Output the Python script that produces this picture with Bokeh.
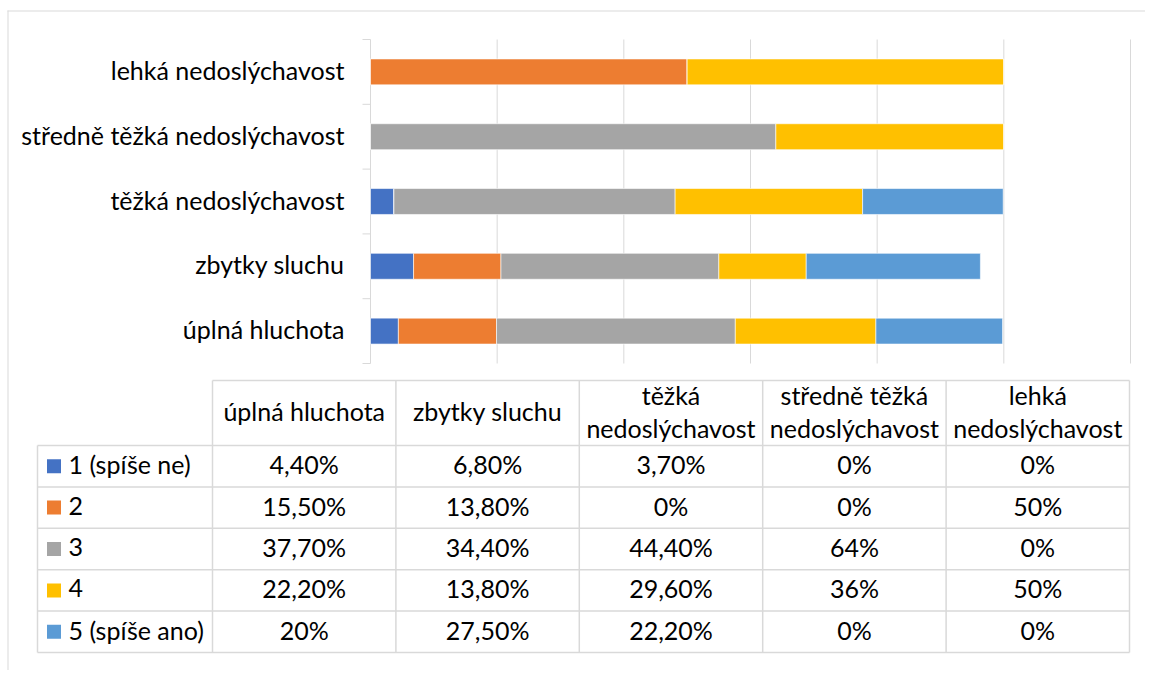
from bokeh.plotting import figure
from bokeh.models import ColumnDataSource, Range1d
from bokeh.embed import file_html
from bokeh.resources import INLINE
from bokeh.core.properties import value

# ---------------- data ----------------
categories = ["úplná hluchota", "zbytky sluchu", "těžká nedoslýchavost",
              "středně těžká nedoslýchavost", "lehká nedoslýchavost"]
series_names = ["1 (spíše ne)", "2", "3", "4", "5 (spíše ano)"]
s1 = [4.4, 6.8, 3.7, 0, 0]
s2 = [15.5, 13.8, 0, 0, 50]
s3 = [37.7, 34.4, 44.4, 64, 0]
s4 = [22.2, 13.8, 29.6, 36, 50]
s5 = [20, 27.5, 22.2, 0, 0]
series_values = [s1, s2, s3, s4, s5]
colors = ["#4472C4", "#ED7D31", "#A5A5A5", "#FFC000", "#5B9BD5"]
x_ticks = [0, 0.2, 0.4, 0.6, 0.8, 1.0, 1.2]

FONT = "Lato"
FS = "25px"
GRID = "#D9D9D9"
TXT = "#000000"
YOFF = -2

# ---------------- layout constants (pixels) ----------------
W, H = 1145, 670
PX = 633.33      # pixels per 100 %
X0 = 370         # pixel position of 0 %
BAND = 64.8      # pixel height of one category band
Y0 = 363         # pixel position of bottom of the category axis

p = figure(width=W, height=H,
           x_range=Range1d(-X0 / PX, (W - X0) / PX),
           y_range=Range1d((Y0 - H) / BAND, Y0 / BAND),
           x_axis_location=None, y_axis_location=None,
           min_border=0, output_backend="svg", toolbar_location=None,
           outline_line_color=None, background_fill_color="white",
           border_fill_color="white")
p.grid.visible = False
p.extra_x_ranges = {"px": Range1d(0, W)}
p.extra_y_ranges = {"px": Range1d(H, 0)}

# ---------------- chart ----------------
n = len(categories)
keys = ["s%d" % (i + 1) for i in range(len(series_values))]
data = {"pos": [i + 0.5 for i in range(n)], "cat": categories}
for k, vals in zip(keys, series_values):
    data[k] = [v / 100.0 for v in vals]
src = ColumnDataSource(data)

# vertical gridlines
p.segment(x0=x_ticks, x1=x_ticks, y0=[0] * len(x_ticks), y1=[n] * len(x_ticks),
          line_color=GRID, line_width=1)
# category tick marks (between bands)
bnd = list(range(n + 1))
p.segment(x0=[-8 / PX] * len(bnd), x1=[0] * len(bnd), y0=bnd, y1=bnd,
          line_color=GRID, line_width=1)

p.hbar_stack(keys, y="pos", height=0.4, color=colors, source=src,
             line_color="white", line_width=0.6)

# category labels
p.text(x=0, y="pos", text="cat", source=src, x_offset=-26, y_offset=YOFF,
       text_align="right", text_baseline="middle",
       text_font=value(FONT), text_font_size=FS, text_color=TXT)

# ---------------- chart area border ----------------
p.segment(x0=[7, 7.5], y0=[10.5, 10], x1=[W, 7.5], y1=[10.5, H],
          line_color=GRID, line_width=1, x_range_name="px", y_range_name="px")

# ---------------- data table ----------------
legend_left = 37
col_edges = [212 + i * 183.4 for i in range(n + 1)]
header_top, header_bottom = 380, 445
row_h = 41.4
row_edges = [header_bottom + i * row_h for i in range(len(series_names) + 1)]

hx0, hx1, hy = [col_edges[0]], [col_edges[-1]], [header_top]
for y in row_edges:
    hx0.append(legend_left); hx1.append(col_edges[-1]); hy.append(y)
p.segment(x0=hx0, y0=hy, x1=hx1, y1=hy, line_color=GRID, line_width=1.5,
          x_range_name="px", y_range_name="px")
vx, vy0, vy1 = [legend_left], [row_edges[0]], [row_edges[-1]]
for x in col_edges:
    vx.append(x); vy0.append(header_top); vy1.append(row_edges[-1])
p.segment(x0=vx, y0=vy0, x1=vx, y1=vy1, line_color=GRID, line_width=1.5,
          x_range_name="px", y_range_name="px")

col_centers = [(col_edges[i] + col_edges[i + 1]) / 2 for i in range(n)]
row_centers = [(row_edges[i] + row_edges[i + 1]) / 2 for i in range(len(series_names))]
hmid = (header_top + header_bottom) / 2

hx, hyy, ht = [], [], []
for c, cat in enumerate(categories):
    if len(cat) > 15:
        a, b = cat.rsplit(" ", 1)
        hx += [col_centers[c]] * 2
        hyy += [hmid - 16.5, hmid + 16.5]
        ht += [a, b]
    else:
        hx.append(col_centers[c]); hyy.append(hmid); ht.append(cat)
p.text(x=hx, y=hyy, text=ht, text_align="center", text_baseline="middle",
       y_offset=YOFF, text_font=value(FONT), text_font_size=FS, text_color=TXT,
       x_range_name="px", y_range_name="px")

def fmt(v):
    if float(v).is_integer():
        return "%d%%" % int(v)
    return ("%.2f%%" % v).replace(".", ",")

cx, cy, ct = [], [], []
for r, vals in enumerate(series_values):
    for c, v in enumerate(vals):
        cx.append(col_centers[c]); cy.append(row_centers[r]); ct.append(fmt(v))
p.text(x=cx, y=cy, text=ct, text_align="center", text_baseline="middle",
       y_offset=YOFF, text_font=value(FONT), text_font_size=FS, text_color=TXT,
       x_range_name="px", y_range_name="px")

# legend keys
p.rect(x=[53.5] * len(series_names), y=row_centers, width=14, height=14,
       fill_color=colors, line_color=None, x_range_name="px", y_range_name="px")
p.text(x=[68] * len(series_names), y=row_centers, text=series_names,
       text_align="left", text_baseline="middle", y_offset=YOFF,
       text_font=value(FONT), text_font_size=FS, text_color=TXT,
       x_range_name="px", y_range_name="px")

open("out.html", "w").write(file_html(p, INLINE))
